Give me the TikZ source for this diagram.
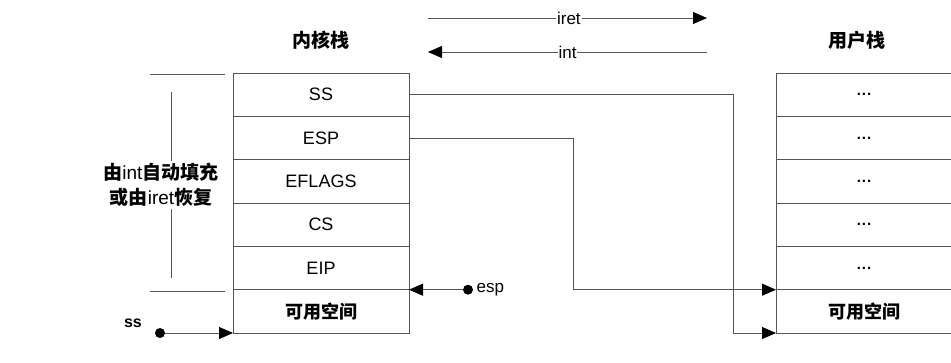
\documentclass[tikz,border=0pt]{standalone}
\usepackage{fontspec}
\setmainfont{Liberation Sans}
\newfontfamily\cjk{Noto Sans CJK SC}
\usepackage{tikz}
\usetikzlibrary{
  arrows.meta,
  positioning
}
\definecolor{linegray}{RGB}{85,85,85}

\begin{document}
\begin{tikzpicture}[x=1pt, y=-1pt,
  cell/.style={rectangle, draw=linegray, line width=0.9pt,
               minimum width=176pt, minimum height=43.33pt,
               inner sep=0pt, outer sep=0pt,
               font=\fontsize{18}{21}\selectfont},
  dots/.style={cell, font=\bfseries\fontsize{15}{17}\selectfont},
  link/.style={draw=linegray, line width=0.9pt},
  arrow/.style={link, -{Triangle[length=14pt, width=12pt, color=black]}},
  dot/.style={circle, fill=black, inner sep=0pt, minimum size=10pt},
  title/.style={font=\cjk\bfseries\fontsize{19}{22}\selectfont}
]
  \useasboundingbox (0,0) rectangle (951,363);

  % Kernel stack
  \node[title] (ktitle) at (321,40) {内核栈};
  \node[cell] (k1) at (321,94.7) {SS};
  \node[cell, below=0pt of k1] (k2) {ESP};
  \node[cell, below=0pt of k2] (k3) {EFLAGS};
  \node[cell, below=0pt of k3] (k4) {CS};
  \node[cell, below=0pt of k4] (k5) {EIP};
  \node[cell, below=0pt of k5] (k6) {\cjk\bfseries 可用空间};

  % User stack
  \node[title] (utitle) at (857,40) {用户栈};
  \node[dots] (u1) at (864,94.7) {.\kern1pt.\kern1pt.};
  \node[dots, below=0pt of u1] (u2) {.\kern1pt.\kern1pt.};
  \node[dots, below=0pt of u2] (u3) {.\kern1pt.\kern1pt.};
  \node[dots, below=0pt of u3] (u4) {.\kern1pt.\kern1pt.};
  \node[dots, below=0pt of u4] (u5) {.\kern1pt.\kern1pt.};
  \node[cell, below=0pt of u5] (u6) {\cjk\bfseries 可用空间};

  % iret / int
  \coordinate (iretL) at (428,18);
  \coordinate (iretR) at (707,18);
  \coordinate (intL) at (428,52);
  \coordinate (intR) at (707,52);
  \draw[arrow] (iretL) -- (iretR)
    node[pos=0.505, fill=white, inner sep=1pt, font=\fontsize{17}{20}\selectfont] (iret) {iret};
  \draw[arrow] (intR) -- (intL)
    node[pos=0.5, fill=white, inner sep=1pt, font=\fontsize{17}{20}\selectfont] (int) {int};

  % Saved SS and ESP point into the user stack
  \coordinate (bendA) at (733,0);
  \coordinate (bendB) at (573,0);
  \draw[link] (k1.east) -| (bendA |- u6.south west);
  \draw[arrow] (bendA |- u6.south west) -- (u6.south west);
  \draw[link] (k2.east) -| (bendB |- u5.south west);
  \draw[arrow] (bendB |- u5.south west) -- (u5.south west);

  % esp and ss
  \node[dot, label={[font=\fontsize{17}{20}\selectfont]right:esp}] (espdot) at (468,289.7) {};
  \draw[arrow] (espdot) -- (espdot -| k5.east);
  \node[dot] (ssdot) at (160,333) {};
  \node[font=\bfseries\fontsize{16}{18}\selectfont] (sslabel) at (133,323) {ss};
  \draw[arrow] (ssdot) -- (ssdot -| k6.west);

  % Bracket for the saved registers
  \coordinate (brTop) at (150,74);
  \coordinate (brBot) at (150,291);
  \draw[link, line width=0.6pt] (brTop) -- ++(75,0);
  \draw[link, line width=0.6pt] (brBot) -- ++(75,0);
  \draw[link, line width=0.6pt] (171,92) -- (171,278);
  \node[fill=white, align=center, inner sep=2pt,
        font=\fontsize{19}{25}\selectfont] (fillnote) at (161,185)
    {{\cjk\bfseries 由}int{\cjk\bfseries 自动填充}\\{\cjk\bfseries 或由}iret{\cjk\bfseries 恢复}};
\end{tikzpicture}
\end{document}
